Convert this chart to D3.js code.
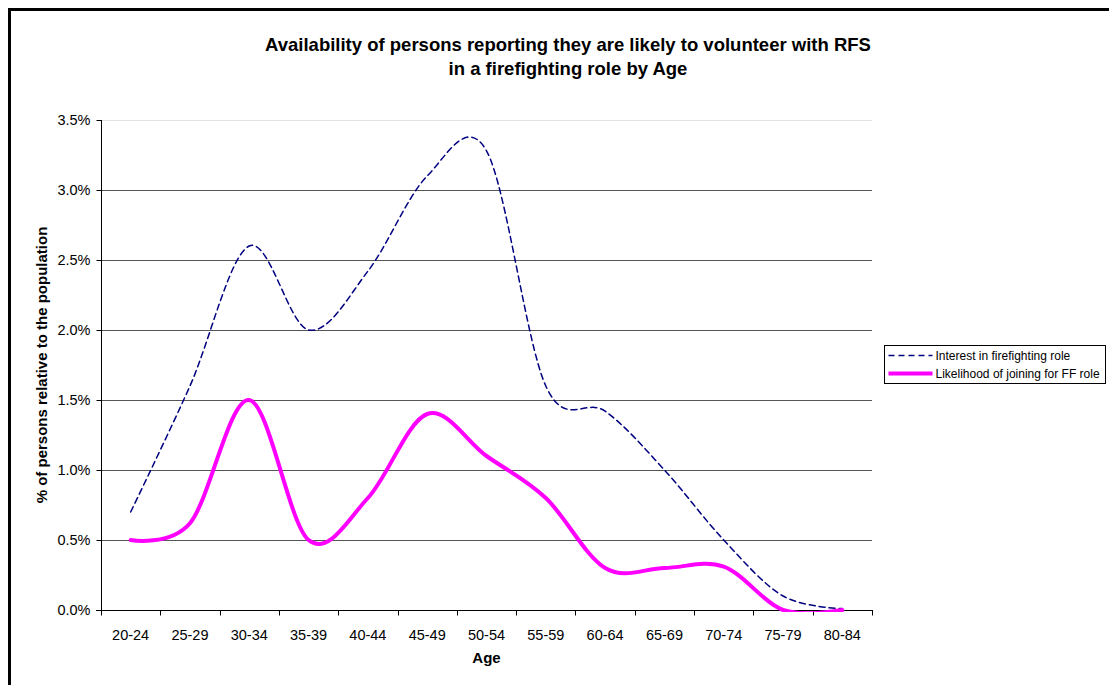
<!DOCTYPE html>
<html>
<head>
<meta charset="utf-8">
<script src="https://cdn.jsdelivr.net/npm/d3@7"></script>
<style>
  html, body { margin: 0; padding: 0; background: #fff; }
  svg { display: block; font-family: "Liberation Sans", Arial, sans-serif; }
</style>
</head>
<body>
<svg id="chart" width="1109" height="685"></svg>
<script>
// Age groups on the category axis
const ageGroups = ["20-24","25-29","30-34","35-39","40-44","45-49","50-54","55-59","60-64","65-69","70-74","75-79","80-84"];

// Share of the population (fraction) per age group
const interestFF = [0.0070, 0.0160, 0.0260, 0.0200, 0.0242, 0.0310, 0.0328, 0.0160, 0.0142, 0.0100, 0.0050, 0.0010, 0.0001];
const likelihoodFF = [0.0050, 0.0062, 0.0150, 0.0050, 0.0080, 0.0140, 0.0110, 0.0080, 0.0030, 0.0030, 0.0031, 0.0000, 0.0000];

const yTicks = [0, 0.005, 0.010, 0.015, 0.020, 0.025, 0.030, 0.035];

const seriesList = [
  { name: "Interest in firefighting role", values: interestFF, color: "#000080", width: 1.5, dash: "6,4" },
  { name: "Likelihood of joining for FF role", values: likelihoodFF, color: "#FF00FF", width: 4, dash: null }
];

const svg = d3.select("#chart");

// Outer chart frame (top and left edges)
svg.append("path")
  .attr("d", "M9.5,685 L9.5,9.5 L1109,9.5")
  .attr("fill", "none").attr("stroke", "#000").attr("stroke-width", 3);

const plot = { left: 101, right: 872, top: 120, bottom: 610 };

const x = d3.scaleBand().domain(ageGroups).range([plot.left, plot.right]).padding(0);
const y = d3.scaleLinear().domain([0, 0.035]).range([plot.bottom, plot.top]);

// Gridlines
svg.append("g").selectAll("line")
  .data(yTicks.filter(d => d > 0))
  .join("line")
  .attr("x1", plot.left).attr("x2", plot.right)
  .attr("y1", d => Math.round(y(d)) + 0.5).attr("y2", d => Math.round(y(d)) + 0.5)
  .attr("stroke", d => d === 0.035 ? "#e2e2e2" : "#555")
  .attr("stroke-width", 1);

// Y axis
const yAxis = svg.append("g")
  .attr("transform", `translate(${plot.left + 0.5},0)`)
  .call(d3.axisLeft(y).tickValues(yTicks).tickFormat(d3.format(".1%")).tickSize(5).tickPadding(6));
yAxis.select(".domain").attr("stroke", "#000").attr("d", `M-5,${plot.bottom + 0.5}H0V${plot.top}`);
yAxis.selectAll(".tick line").attr("stroke", "#000");
yAxis.selectAll(".tick text").attr("font-size", 14.5).attr("fill", "#000")
  .attr("font-family", "Liberation Sans, Arial, sans-serif");

// X axis with ticks at category boundaries
const xAxisG = svg.append("g").attr("transform", `translate(0,${plot.bottom + 0.5})`);
xAxisG.append("line").attr("x1", plot.left - 5).attr("x2", plot.right + 1)
  .attr("stroke", "#000");
const bounds = ageGroups.map(d => x(d)).concat([x.range()[1]]);
xAxisG.selectAll("line.tk").data(bounds).join("line").attr("class", "tk")
  .attr("x1", d => Math.round(d) + 0.5).attr("x2", d => Math.round(d) + 0.5)
  .attr("y1", 0).attr("y2", 5).attr("stroke", "#000");
xAxisG.selectAll("text").data(ageGroups).join("text")
  .attr("x", d => x(d) + x.bandwidth() / 2)
  .attr("y", 29)
  .attr("text-anchor", "middle")
  .attr("font-size", 14.5)
  .text(d => d);

// Axis titles
svg.append("text")
  .attr("x", (plot.left + plot.right) / 2).attr("y", 663)
  .attr("text-anchor", "middle").attr("font-size", 15).attr("font-weight", "bold")
  .text("Age");
svg.append("text")
  .attr("transform", `translate(47,${(plot.top + plot.bottom) / 2}) rotate(-90)`)
  .attr("text-anchor", "middle").attr("font-size", 15).attr("font-weight", "bold")
  .text("% of persons relative to the population");

// Title
const title = svg.append("text").attr("text-anchor", "middle").attr("font-size", 18.5).attr("font-weight", "bold");
title.append("tspan").attr("x", 568).attr("y", 51).text("Availability of persons reporting they are likely to volunteer with RFS");
title.append("tspan").attr("x", 568).attr("y", 75).text("in a firefighting role by Age");

// Keep the curves from dipping under the zero baseline
svg.append("clipPath").attr("id", "plotClip")
  .append("rect").attr("x", plot.left).attr("y", 0)
  .attr("width", plot.right - plot.left).attr("height", plot.bottom + 2);

// Smoothed series lines
const line = d3.line()
  .x((d, i) => x(ageGroups[i]) + x.bandwidth() / 2)
  .y(d => y(d))
  .curve(d3.curveCardinal.tension(0));

const linesG = svg.append("g").attr("clip-path", "url(#plotClip)");
seriesList.forEach(s => {
  linesG.append("path")
    .datum(s.values)
    .attr("d", line)
    .attr("fill", "none")
    .attr("stroke", s.color)
    .attr("stroke-width", s.width)
    .attr("stroke-dasharray", s.dash)
    .attr("stroke-linejoin", "round")
    .attr("stroke-linecap", "round");
});

// Legend
const lg = svg.append("g").attr("transform", "translate(884.5,345.5)");
lg.append("rect").attr("width", 221).attr("height", 38)
  .attr("fill", "#fff").attr("stroke", "#000").attr("stroke-width", 1);
seriesList.forEach((s, i) => {
  const yy = 10 + i * 18;
  lg.append("line").attr("x1", 4).attr("x2", 48).attr("y1", yy).attr("y2", yy)
    .attr("stroke", s.color).attr("stroke-width", s.width)
    .attr("stroke-dasharray", s.dash);
  lg.append("text").attr("x", 51).attr("y", yy + 4)
    .attr("font-size", 12).text(s.name);
});
</script>
</body>
</html>
